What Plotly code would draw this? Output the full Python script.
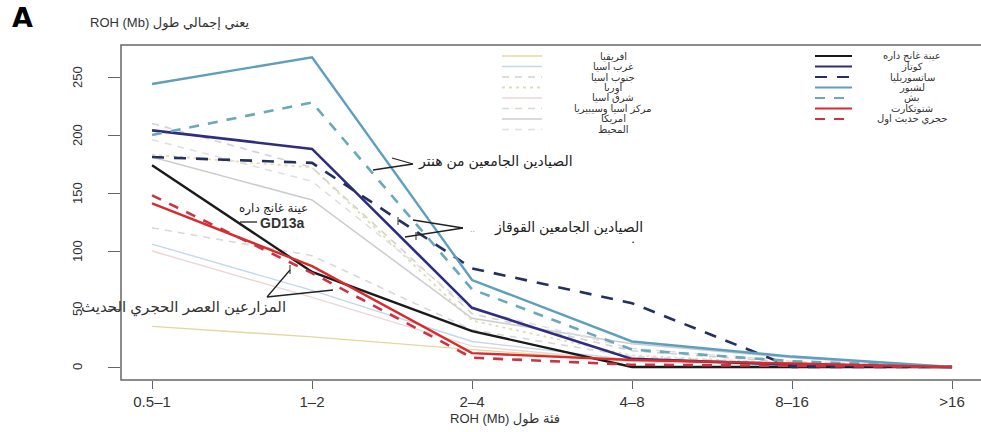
import plotly.graph_objects as go

categories = ["0.5–1", "1–2", "2–4", "4–8", "8–16", ">16"]
y_ticks = [0, 50, 100, 150, 200, 250]
y_tick_labels = ["0", "50", "100", "150", "200", "250"]

# modern populations (faint)
africa = [35, 26, 15, 5, 2, 0]
west_asia = [106, 66, 22, 6, 2, 0]
south_asia = [210, 172, 46, 14, 4, 0]
europe = [183, 172, 40, 10, 3, 0]
east_asia = [100, 60, 18, 5, 1, 0]
central_asia = [120, 96, 32, 9, 3, 0]
america = [181, 144, 42, 20, 8, 0]
oceania = [196, 160, 50, 16, 5, 0]

# ancient samples
gd13a = [174, 82, 31, 0, 0, 0]
kotias = [204, 188, 51, 7, 2, 0]
satsurblia = [181, 176, 85, 55, 0, 0]
loschbour = [244, 267, 75, 22, 9, 0]
bichon = [200, 228, 67, 15, 5, 0]
stuttgart = [141, 87, 12, 6, 3, 0]
early_neolithic = [148, 81, 8, 2, 1, 0]

light_series = [
    ("افريقيا", africa, "#e3d89c", None, 1.4),
    ("غرب اسيا", west_asia, "#c3d8e8", None, 1.4),
    ("جنوب اسيا", south_asia, "#d2d2d2", "7px,6px", 1.6),
    ("اوربا", europe, "#e2ddb0", "3px,4px", 1.8),
    ("شرق اسيا", east_asia, "#ecd6d6", None, 1.4),
    ("مركز اسيا وسيبيريا", central_asia, "#d8d8d8", "7px,6px", 1.6),
    ("امريكا", america, "#cccccc", None, 1.5),
    ("المحيط", oceania, "#e0e0e0", "7px,6px", 1.6),
]
main_series = [
    ("عينة غانج داره", gd13a, "#1a1a1a", None, 2.4),
    ("كوتاز", kotias, "#2e2d80", None, 2.6),
    ("ساتسوربليا", satsurblia, "#24305f", "12px,10px", 2.6),
    ("لشبور", loschbour, "#5e9fbf", None, 2.4),
    ("بش", bichon, "#6aa8bb", "10px,9px", 2.6),
    ("شتوتكارت", stuttgart, "#d92b2b", None, 2.4),
    ("حجري حديث اول", early_neolithic, "#cc3342", "10px,9px", 2.6),
]

W, H = 981, 432
L, R_, T, B = 121, 0, 45, 52
PW, PH = W - L - R_, H - T - B


def px(x):
    return (x - L) / PW


def py(y):
    return (H - B - y) / PH


FONT = "Liberation Sans, DejaVu Sans, sans-serif"
fig = go.Figure()
for name, vals, col, dash, w in light_series + main_series:
    fig.add_trace(go.Scatter(
        x=list(range(len(categories))), y=vals, mode="lines", name=name,
        line=dict(color=col, width=w, dash=dash or "solid"),
        showlegend=False, hoverinfo="skip"))

shapes = []
annotations = []

# frame
shapes.append(dict(type="rect", xref="paper", yref="paper", x0=0, x1=1.01, y0=0, y1=1,
                   line=dict(color="#666", width=1.5)))

# manual legend
row0, dy = 56, 10.5
for i, (name, vals, col, dash, w) in enumerate(light_series):
    y = row0 + dy * i
    shapes.append(dict(type="line", xref="paper", yref="paper", x0=px(502), x1=px(542),
                       y0=py(y), y1=py(y), line=dict(color=col, width=max(w, 1.6), dash=dash or "solid")))
    annotations.append(dict(xref="paper", yref="paper", x=px(613), y=py(y), text=name,
                            showarrow=False, xanchor="center", yanchor="middle",
                            font=dict(family=FONT, size=10, color="#333")))
for i, (name, vals, col, dash, w) in enumerate(main_series):
    y = row0 + dy * i
    shapes.append(dict(type="line", xref="paper", yref="paper", x0=px(815), x1=px(852),
                       y0=py(y), y1=py(y), line=dict(color=col, width=2, dash=dash or "solid")))
    annotations.append(dict(xref="paper", yref="paper", x=px(912), y=py(y), text=name,
                            showarrow=False, xanchor="center", yanchor="middle",
                            font=dict(family=FONT, size=10, color="#333")))


def seg(x0, y0, x1, y1, w=1.3):
    shapes.append(dict(type="line", xref="paper", yref="paper", x0=px(x0), y0=py(y0),
                       x1=px(x1), y1=py(y1), line=dict(color="#222", width=w)))


def txt(x, y, s, size=12, anchor="left", color="#222", bold=False, angle=0, yref="paper"):
    annotations.append(dict(xref="paper", yref=yref, x=px(x), y=py(y) if yref == "paper" else y,
                            text=f"<b>{s}</b>" if bold else s, showarrow=False,
                            xanchor=anchor, yanchor="middle", textangle=angle,
                            font=dict(family=FONT, size=size, color=color)))


# y tick labels (rotated, R style)
for v, lab in zip(y_ticks, y_tick_labels):
    txt(77, v, lab, 13, anchor="center", color="#333", angle=-90, yref="y")

# hunter-gatherers annotation
seg(373, 170, 413, 164)
seg(392, 158, 413, 164)
txt(416, 161, "الصيادين الجامعين من هنتر", 14)
# caucasus hunter-gatherers
seg(413, 220, 463, 228)
seg(405, 237, 463, 228)
seg(398, 217, 398, 225, 1)
seg(416, 232, 416, 240, 1)
txt(468, 229, "..", 9, color="#999")
txt(492, 227, "الصيادين الجامعين القوقاز", 14)
txt(630, 242, "•", 6)
# GD13a
txt(237, 208, "عينة غانج داره", 12)
seg(240, 222, 257, 222)
txt(258, 223, "GD13a", 14, bold=True, color="#333")
# farmers
seg(267, 297, 290, 270)
seg(267, 297, 333, 290)
seg(290, 265, 290, 274, 1)
txt(288, 307, "المزارعين العصر الحجري الحديث", 15, anchor="right", color="#333")

# titles
annotations.append(dict(xref="paper", yref="paper", x=px(10), y=py(18), text="<b>A</b>",
                        showarrow=False, xanchor="left", yanchor="middle",
                        font=dict(family="DejaVu Sans", size=27, color="#000")))
txt(88, 23, "ROH (Mb) يعني إجمالي طول", 13, color="#333")
txt(505, 419, "ROH (Mb) فئة طول", 13, anchor="center", color="#333")

fig.update_layout(
    width=W, height=H, margin=dict(l=L, r=R_, t=T, b=B, pad=0),
    paper_bgcolor="white", plot_bgcolor="white",
    shapes=shapes, annotations=annotations, showlegend=False,
    xaxis=dict(range=[-0.194, -0.194 + PW / 160], tickmode="array",
               tickvals=list(range(len(categories))), ticktext=categories,
               ticks="outside", ticklen=8, tickcolor="#666", tickwidth=1.3,
               showgrid=False, zeroline=False, showline=False,
               tickfont=dict(family=FONT, size=15, color="#333")),
    yaxis=dict(range=[-11.2, 277.6], tickmode="array", tickvals=y_ticks,
               showticklabels=False,
               ticks="outside", ticklen=12, tickcolor="#666", tickwidth=1.3,
               showgrid=False, zeroline=False, showline=False),
)

fig.write_html("out.html", config={"displayModeBar": False},
               post_script="document.body.style.margin='0px';")
